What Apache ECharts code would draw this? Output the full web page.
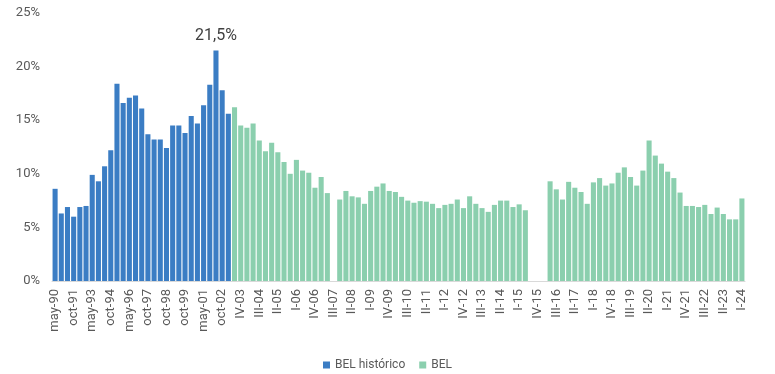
<!DOCTYPE html>
<html>
<head>
<meta charset="utf-8">
<script src="https://cdn.jsdelivr.net/npm/echarts@6/dist/echarts.min.js"></script>
<style>html,body{margin:0;padding:0;background:#fff}#c{width:775px;height:374px}</style>
</head>
<body>
<div id="c"></div>
<script>
const categories = [
  'may-90','oct-90','may-91','oct-91','may-92','oct-92','may-93','oct-93','may-94','oct-94',
  'may-95','oct-95','may-96','oct-96','may-97','oct-97','feb-98','may-98','oct-98','feb-99',
  'may-99','oct-99','may-00','oct-00','may-01','oct-01','may-02','oct-02','mar-03',
  'III-03','IV-03','I-04','II-04','III-04','IV-04','I-05','II-05','III-05','IV-05',
  'I-06','II-06','III-06','IV-06','I-07','II-07','III-07','IV-07','I-08','II-08',
  'III-08','IV-08','I-09','II-09','III-09','IV-09','I-10','II-10','III-10','IV-10',
  'I-11','II-11','III-11','IV-11','I-12','II-12','III-12','IV-12','I-13','II-13',
  'III-13','IV-13','I-14','II-14','III-14','IV-14','I-15','II-15','III-15','IV-15',
  'I-16','II-16','III-16','IV-16','I-17','II-17','III-17','IV-17','I-18','II-18',
  'III-18','IV-18','I-19','II-19','III-19','IV-19','I-20','II-20','III-20','IV-20',
  'I-21','II-21','III-21','IV-21','I-22','II-22','III-22','IV-22','I-23','II-23',
  'III-23','IV-23','I-24'
];
const belHistorico = [8.6, 6.3, 6.9, 6.0, 6.9, 7.0, 9.9, 9.3, 10.7, 12.2, 18.4, 16.6, 17.1, 17.3, 16.1,
  13.7, 13.2, 13.2, 12.4, 14.5, 14.5, 13.8, 15.4, 14.7, 16.4, 18.3, 21.5, 17.8, 15.6];
const bel = [16.2, 14.5, 14.3, 14.7, 13.1, 12.1, 12.9, 12.0, 11.1, 10.0, 11.3, 10.3, 10.1, 8.7, 9.7, 8.2,
  null, 7.6, 8.4, 7.9, 7.8, 7.2, 8.4, 8.8, 9.1, 8.4, 8.3, 7.85, 7.5, 7.3, 7.45, 7.4, 7.2, 6.8, 7.1, 7.2,
  7.6, 6.8, 7.9, 7.2, 6.8, 6.45, 7.1, 7.5, 7.5, 6.9, 7.15, 6.6, null, null, null,
  9.3, 8.55, 7.6, 9.25, 8.7, 8.3, 7.2, 9.2, 9.6, 8.9, 9.1, 10.1, 10.6, 9.7, 8.9, 10.3, 13.1, 11.7, 10.95,
  10.2, 9.6, 8.25, 7.0, 7.0, 6.9, 7.1, 6.25, 6.85, 6.25, 5.75, 5.75, 7.7];
const peakLabel = '21,5%';
const yTicks = [0, 5, 10, 15, 20, 25];

const blueData = categories.map((c, i) => i < belHistorico.length ? belHistorico[i] : null);
const greenStart = categories.length - bel.length;
const greenData = categories.map((c, i) => i >= greenStart ? bel[i - greenStart] : null);
const peakIdx = belHistorico.indexOf(Math.max(...belHistorico));
blueData[peakIdx] = {
  value: belHistorico[peakIdx],
  label: { show: true, position: 'top', distance: 7, formatter: peakLabel, fontSize: 16, color: '#404040', fontFamily: 'Roboto' }
};

const chart = echarts.init(document.getElementById('c'), null, { renderer: 'canvas' });
chart.setOption({
  animation: false,
  textStyle: { fontFamily: 'Roboto' },
  grid: { left: 52, right: 30, top: 13, bottom: 93, containLabel: false },
  legend: {
    top: 354, left: 'center',
    itemWidth: 7, itemHeight: 7, itemGap: 14, icon: 'rect',
    textStyle: { fontSize: 12, color: '#595959', fontFamily: 'Roboto' },
    data: ['BEL histórico', 'BEL']
  },
  xAxis: {
    type: 'category', data: categories,
    axisLine: { show: true, lineStyle: { color: '#d9d9d9' } },
    axisTick: { show: false },
    axisLabel: { interval: 2, rotate: 90, fontSize: 13, color: '#595959', margin: 8 }
  },
  yAxis: {
    type: 'value', min: yTicks[0], max: yTicks[yTicks.length - 1], interval: 5,
    splitLine: { show: false },
    axisLine: { show: false }, axisTick: { show: false },
    axisLabel: { formatter: '{value}%', fontSize: 13, color: '#595959', margin: 12 }
  },
  series: [
    { name: 'BEL histórico', type: 'bar', stack: 's', data: blueData, barCategoryGap: '18%',
      itemStyle: { color: '#3B7DC4' } },
    { name: 'BEL', type: 'bar', stack: 's', data: greenData, barCategoryGap: '18%',
      itemStyle: { color: '#8BCFAE' } }
  ]
});
</script>
</body>
</html>
